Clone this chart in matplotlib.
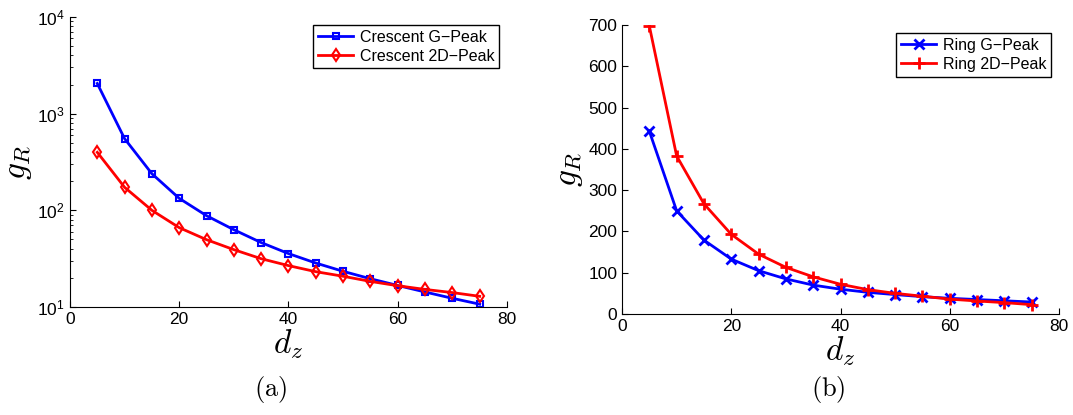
import matplotlib.pyplot as plt
import numpy as np

plt.rcParams['font.family'] = ['Liberation Sans', 'DejaVu Sans']
plt.rcParams['mathtext.fontset'] = 'cm'

# data
dz = [5, 10, 15, 20, 25, 30, 35, 40, 45, 50, 55, 60, 65, 70, 75]
crescent_g = [2050, 551, 239, 133, 88, 63, 46.4, 35.7, 28.5, 23.4, 19.6, 16.7, 14.3, 12.3, 10.7]
crescent_2d = [398, 173, 100, 66.2, 49.7, 39.2, 31.6, 26.8, 23.2, 20.8, 18.4, 16.6, 15.2, 14.1, 12.9]
ring_g = [443, 250, 179, 133, 105, 85, 70, 60, 52.5, 47, 42, 38, 35, 32, 29]
ring_2d = [698, 383, 267, 193, 145, 113, 90, 72, 59, 50, 43, 36, 31.5, 27.5, 22.6]

xticks = [0, 20, 40, 60, 80]
ring_yticks = [0, 100, 200, 300, 400, 500, 600, 700]

fig = plt.figure(figsize=(10.73, 4.15), dpi=100)
ax1 = fig.add_axes([0.0652, 0.2602, 0.4073, 0.699])
ax2 = fig.add_axes([0.5797, 0.2434, 0.4073, 0.696])

ax1.semilogy(dz, crescent_g, color='#0000ff', lw=2, marker='s', ms=5, mfc='none', mew=1.5, label='Crescent G\u2212Peak')
ax1.semilogy(dz, crescent_2d, color='#ff0000', lw=2, marker='d', ms=6, mfc='none', mew=1.5, label='Crescent 2D\u2212Peak')
ax1.set_ylim(10, 1e4)
ax1.set_yticks([10, 100, 1000, 10000])

ax2.plot(dz, ring_g, color='#0000ff', lw=2, marker='x', ms=7, mew=2, label='Ring G\u2212Peak')
ax2.plot(dz, ring_2d, color='#ff0000', lw=2, marker='+', ms=9, mew=2, label='Ring 2D\u2212Peak')
ax2.set_ylim(0, 700)
ax2.set_yticks(ring_yticks)

for ax in (ax1, ax2):
    ax.set_xlim(0, 80)
    ax.set_xticks(xticks)
    ax.spines['top'].set_visible(False)
    ax.spines['right'].set_visible(False)
    ax.tick_params(direction='in', labelsize=12.5, length=4, which='both')
    ax.tick_params(which='minor', length=2)
    ax.set_xlabel('$d_z$', fontsize=24, labelpad=0)
    ax.set_ylabel('$g_R$', fontsize=24, labelpad=2)
    leg = ax.legend(loc='upper right', fontsize=11.5, fancybox=False, framealpha=1,
                    edgecolor='black', handlelength=2.2, borderpad=0.3, labelspacing=0.25,
                    handletextpad=0.4)
    leg.get_frame().set_linewidth(1.0)

fig.text(0.252, 0.045, r'$\mathrm{(a)}$', fontsize=19, ha='center')
fig.text(0.772, 0.045, r'$\mathrm{(b)}$', fontsize=19, ha='center')

fig.savefig('out.png', dpi=100)
